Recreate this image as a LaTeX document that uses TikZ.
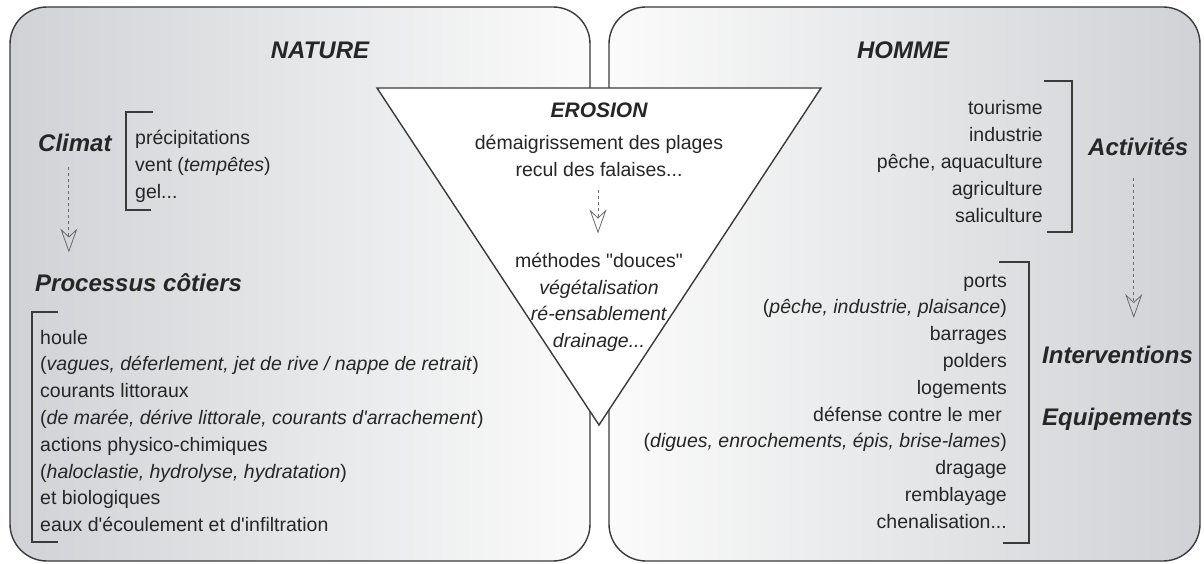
\documentclass[tikz,border=0pt]{standalone}
\usepackage{fontspec}
\setmainfont{Liberation Sans}
\usetikzlibrary{arrows.meta}
\definecolor{ink}{HTML}{262626}
\definecolor{edge}{HTML}{3A3A3A}
\definecolor{panelgray}{HTML}{D0D2D5}
\definecolor{panelmid}{HTML}{ECEDEE}
\definecolor{panelwhite}{HTML}{FBFBFB}
\definecolor{flowgray}{HTML}{6A6A6A}
\begin{document}
\begin{tikzpicture}[x=1pt,y=-1pt,
  panel/.style={draw=edge, line width=1.4pt, rounded corners=37pt},
  title/.style={font=\fontsize{24}{28}\selectfont\bfseries\itshape, text=ink, inner sep=0pt},
  erotitle/.style={font=\fontsize{21}{25}\selectfont\bfseries\itshape, text=ink, inner sep=0pt},
  item/.style={font=\fontsize{19.5}{26.8}\selectfont, text=ink, inner sep=0pt},
  iw/.style={item, anchor=base west},
  ie/.style={item, anchor=base east},
  ic/.style={item, anchor=base},
  bracket/.style={draw=edge, line width=1.3pt},
  flow/.style={draw=flowgray, dash pattern=on 3pt off 3pt, line width=0.9pt,
    -{Stealth[open, width=17pt, length=24pt, inset=8pt, line width=0.8pt]}}
]
\useasboundingbox (0,0) rectangle (1204,564);
\fill[white] (0,0) rectangle (1204,564);

% panels
\shade[left color=panelgray, middle color=panelmid, right color=panelwhite, rounded corners=37pt] (10,7) rectangle (590,561);
\shade[left color=panelwhite, middle color=panelmid, right color=panelgray, rounded corners=37pt] (609,7) rectangle (1200,561);
\draw[panel] (10,7) rectangle (590,561);
\draw[panel] (609,7) rectangle (1200,561);

% erosion triangle
\draw[fill=white, draw=edge, line width=1.4pt, line join=miter] (377,88) -- (821,88) -- (599,425) -- cycle;

% titles
\node[title, anchor=base] (nature) at (320,58.5) {NATURE};
\node[title, anchor=base] (homme) at (903,58.5) {HOMME};
\node[title, anchor=base west] (climat) at (38,151.6) {Climat};
\node[title, anchor=base west] (proc) at (35,291.6) {Processus côtiers};
\node[title, anchor=base west] (act) at (1088,155.6) {Activités};
\node[title, anchor=base west] (interv) at (1042,363.6) {Interventions};
\node[title, anchor=base west] (equip) at (1042,425.6) {Equipements};
\node[erotitle, anchor=base] (erosion) at (599,117.5) {EROSION};

% climat items
\node[iw] (clim0) at (135,145) {précipitations};
\node[iw] (clim1) at (135,171.8) {vent (\textit{tempêtes})};
\node[iw] (clim2) at (135,198.6) {gel...};

% processus items
\node[iw] (pr0) at (40,344) {houle};
\node[iw] (pr1) at (40,370.8) {(\textit{vagues, déferlement, jet de rive / nappe de retrait})};
\node[iw] (pr2) at (40,397.6) {courants littoraux};
\node[iw] (pr3) at (40,424.4) {(\textit{de marée, dérive littorale, courants d\textquotesingle arrachement})};
\node[iw] (pr4) at (40,451.2) {actions physico-chimiques};
\node[iw] (pr5) at (40,478) {(\textit{haloclastie, hydrolyse, hydratation})};
\node[iw] (pr6) at (40,504.8) {et biologiques};
\node[iw] (pr7) at (40,531.6) {eaux d\textquotesingle écoulement et d\textquotesingle infiltration};

% activites items
\node[ie] (ac0) at (1043,115) {tourisme};
\node[ie] (ac1) at (1043,141.8) {industrie};
\node[ie] (ac2) at (1043,168.6) {pêche, aquaculture};
\node[ie] (ac3) at (1043,195.4) {agriculture};
\node[ie] (ac4) at (1043,222.2) {saliculture};

% interventions items
\node[ie] (iv0) at (1007,287) {ports};
\node[ie] (iv1) at (1007,313.8) {(\textit{pêche, industrie, plaisance})};
\node[ie] (iv2) at (1007,340.6) {barrages};
\node[ie] (iv3) at (1007,367.4) {polders};
\node[ie] (iv4) at (1007,394.2) {logements};
\node[ie] (iv5) at (1007,421) {défense contre le mer\hspace*{5pt}};
\node[ie] (iv6) at (1007,447.8) {(\textit{digues, enrochements, épis, brise-lames})};
\node[ie] (iv7) at (1007,474.6) {dragage};
\node[ie] (iv8) at (1007,501.4) {remblayage};
\node[ie] (iv9) at (1007,528.2) {chenalisation...};

% erosion items
\node[ic] (demaig) at (599,150) {démaigrissement des plages};
\node[ic] (recul) at (599,177) {recul des falaises...};
\node[ic] (methods) at (599,267) {méthodes \textquotedbl douces\textquotedbl};
\node[ic] (veget) at (599,294) {\textit{végétalisation}};
\node[ic] (ensab) at (599,320.5) {\textit{ré-ensablement}};
\node[ic] (drain) at (599,347) {\textit{drainage...}};

% brackets
\draw[bracket] (153,112) -- (126,112) -- (126,210) -- (151,210);
\draw[bracket] (58,312) -- (32,312) -- (32,542) -- (58,542);
\draw[bracket] (1044,81) -- (1072,81) -- (1072,232) -- (1047,232);
\draw[bracket] (999,262) -- (1029,262) -- (1029,543) -- (1003,543);

% flows
\draw[flow, shorten <=15pt, shorten >=21pt] ([xshift=-6pt]climat.south) -- ([xshift=-6pt]climat.south |- proc.north);
\draw[flow, shorten <=13pt, shorten >=19pt] ([xshift=-1pt]recul.south) -- ([xshift=-1pt]methods.north);
\draw[flow, shorten <=22pt, shorten >=28pt] ([xshift=-4.5pt]act.south) -- ([xshift=-4.5pt]act.south |- interv.north);
\end{tikzpicture}
\end{document}
